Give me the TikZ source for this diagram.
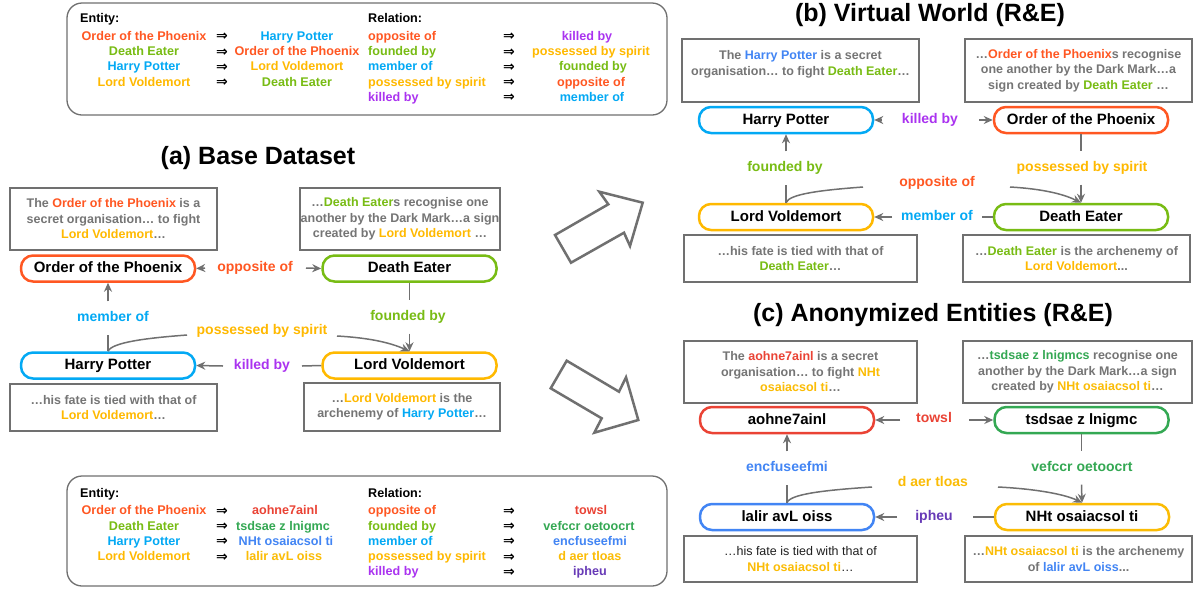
\documentclass[tikz,border=0pt]{standalone}
\usepackage{fontspec}
\setmainfont{Liberation Sans}
\newfontfamily\symfont{DejaVu Sans}
\usetikzlibrary{arrows.meta}
\definecolor{ootp}{RGB}{255,87,34}
\definecolor{de}{RGB}{120,188,20}
\definecolor{hp}{RGB}{3,169,244}
\definecolor{lv}{RGB}{255,185,0}
\definecolor{purp}{RGB}{170,51,240}
\definecolor{hpb}{RGB}{66,133,244}
\definecolor{cred}{RGB}{234,67,53}
\definecolor{cgreen}{RGB}{52,168,83}
\definecolor{cblue}{RGB}{66,133,244}
\definecolor{cyel}{RGB}{251,188,5}
\definecolor{cpurp}{RGB}{103,58,183}
\definecolor{tgray}{RGB}{117,117,117}
\definecolor{lgray}{RGB}{112,112,112}
\tikzset{
  ent/.style={draw, line width=2.5pt, rounded corners=12pt, minimum width=174pt, minimum height=26pt, inner sep=0pt, text height=11pt, text depth=3pt, font=\fontsize{15}{18}\selectfont\bfseries, text=black},
  ctx/.style={draw=lgray, line width=2pt, align=center, inner sep=0pt, font=\fontsize{12.5}{15.5}\selectfont\bfseries, text=tgray},
  lab/.style={font=\fontsize{14}{17}\selectfont\bfseries, inner xsep=10pt, inner ysep=0pt, minimum height=33pt, text height=10pt, text depth=3pt},
  conn/.style={draw=lgray, line width=1.5pt},
  arr/.style={conn, -{Stealth[length=9pt,width=8pt]}},
  leg/.style={font=\fontsize{12.6}{15}\selectfont\bfseries, inner sep=0pt, text height=9pt, text depth=2.6pt},
  imp/.style={font=\symfont\bfseries\fontsize{14}{16}\selectfont, inner sep=0pt},
  ttl/.style={font=\fontsize{25}{30}\selectfont\bfseries},
  bigarrow/.style={draw=lgray, line width=2.5pt, fill=white, line join=miter}
}
\begin{document}
\begin{tikzpicture}[x=1pt,y=-1pt]
\useasboundingbox (0,0) rectangle (1203,590);
\fill[white] (0,0) rectangle (1203,590);

% ---------- top legend ----------
\draw[draw=lgray, line width=1.3pt, rounded corners=15pt] (67,3) rectangle (667,115);
\node[leg, anchor=west] (te0) at (80,19) {Entity:};
\node[leg, anchor=west] (tr0) at (368,19) {Relation:};
\node[leg, text=ootp] (te1) at (144,37) {Order of the Phoenix};
\node[leg, text=de] (te2) at (144,52.3) {Death Eater};
\node[leg, text=hp] (te3) at (144,67.6) {Harry Potter};
\node[leg, text=lv] (te4) at (144,82.9) {Lord Voldemort};
\node[imp] (ta1) at (222,37) {⇒};
\node[imp] (ta2) at (222,52.3) {⇒};
\node[imp] (ta3) at (222,67.6) {⇒};
\node[imp] (ta4) at (222,82.9) {⇒};
\node[leg, text=hp] (tf1) at (297,37) {Harry Potter};
\node[leg, text=ootp] (tf2) at (297,52.3) {Order of the Phoenix};
\node[leg, text=lv] (tf3) at (297,67.6) {Lord Voldemort};
\node[leg, text=de] (tf4) at (297,82.9) {Death Eater};
\node[leg, text=ootp, anchor=west] (tr1) at (368,37) {opposite of};
\node[leg, text=de, anchor=west] (tr2) at (368,52.3) {founded by};
\node[leg, text=hp, anchor=west] (tr3) at (368,67.6) {member of};
\node[leg, text=lv, anchor=west] (tr4) at (368,82.9) {possessed by spirit};
\node[leg, text=purp, anchor=west] (tr5) at (368,98.2) {killed by};
\node[imp] (tb1) at (509,37) {⇒};
\node[imp] (tb2) at (509,52.3) {⇒};
\node[imp] (tb3) at (509,67.6) {⇒};
\node[imp] (tb4) at (509,82.9) {⇒};
\node[imp] (tb5) at (509,98.2) {⇒};
\node[leg, text=purp] (tg1) at (587,37) {killed by};
\node[leg, text=lv] (tg2) at (591,52.3) {possessed by spirit};
\node[leg, text=de] (tg3) at (593,67.6) {founded by};
\node[leg, text=ootp] (tg4) at (591,82.9) {opposite of};
\node[leg, text=hp] (tg5) at (592,98.2) {member of};

% ---------- bottom legend ----------
\draw[draw=lgray, line width=1.3pt, rounded corners=15pt] (67,476) rectangle (667,586);
\node[leg, anchor=west] (be0) at (80,494) {Entity:};
\node[leg, anchor=west] (br0) at (368,494) {Relation:};
\node[leg, text=ootp] (be1) at (144,511.5) {Order of the Phoenix};
\node[leg, text=de] (be2) at (144,526.8) {Death Eater};
\node[leg, text=hp] (be3) at (144,542.1) {Harry Potter};
\node[leg, text=lv] (be4) at (144,557.4) {Lord Voldemort};
\node[imp] (ba1) at (222,511.5) {⇒};
\node[imp] (ba2) at (222,526.8) {⇒};
\node[imp] (ba3) at (222,542.1) {⇒};
\node[imp] (ba4) at (222,557.4) {⇒};
\node[leg, text=cred] (bf1) at (285,511.5) {aohne7ainl};
\node[leg, text=cgreen] (bf2) at (283,526.8) {tsdsae z lnigmc};
\node[leg, text=cblue] (bf3) at (286,542.1) {NHt osaiacsol ti};
\node[leg, text=cyel] (bf4) at (284,557.4) {lalir avL oiss};
\node[leg, text=ootp, anchor=west] (br1) at (368,511.5) {opposite of};
\node[leg, text=de, anchor=west] (br2) at (368,526.8) {founded by};
\node[leg, text=hp, anchor=west] (br3) at (368,542.1) {member of};
\node[leg, text=lv, anchor=west] (br4) at (368,557.4) {possessed by spirit};
\node[leg, text=purp, anchor=west] (br5) at (368,572.7) {killed by};
\node[imp] (bb1) at (509,511.5) {⇒};
\node[imp] (bb2) at (509,526.8) {⇒};
\node[imp] (bb3) at (509,542.1) {⇒};
\node[imp] (bb4) at (509,557.4) {⇒};
\node[imp] (bb5) at (509,572.7) {⇒};
\node[leg, text=cred] (bg1) at (591,511.5) {towsl};
\node[leg, text=cgreen] (bg2) at (589,526.8) {vefccr oetoocrt};
\node[leg, text=cblue] (bg3) at (590,542.1) {encfuseefmi};
\node[leg, text=cyel] (bg4) at (590,557.4) {d aer tloas};
\node[leg, text=cpurp] (bg5) at (590,572.7) {ipheu};

% ---------- big arrows ----------
\draw[bigarrow] (555,235) -- (608.3,204.3) -- (599.3,191.7) -- (642.7,202.7) -- (630,246) -- (624,232.7) -- (571,262.7) -- cycle;
\draw[bigarrow] (566.7,360.7) -- (619,391.7) -- (626,377.3) -- (638.3,420) -- (594.3,432.7) -- (601.7,418.3) -- (550.7,388.3) -- cycle;

% ---------- (a) ----------
\node[ttl] (ta) at (258,158) {(a) Base Dataset};
\node[ctx, minimum width=207pt, minimum height=62pt] (ac1) at (113.5,219)
  {The \textcolor{ootp}{Order of the Phoenix} is a\\secret organisation… to fight\\\textcolor{lv}{Lord Voldemort}…};
\node[ctx, minimum width=200pt, minimum height=62pt] (ac2) at (400,219)
  {…\textcolor{de}{Death Eater}s recognise one\\another by the Dark Mark…a sign\\created by \textcolor{lv}{Lord Voldemort} …};
\node[ctx, minimum width=207pt, minimum height=47pt] (ac3) at (113.5,407.5)
  {…his fate is tied with that of\\\textcolor{lv}{Lord Voldemort}…};
\node[ctx, minimum width=196pt, minimum height=48pt] (ac4) at (402,407)
  {…\textcolor{lv}{Lord Voldemort} is the\\archenemy of \textcolor{hp}{Harry Potter}…};
\node[ent, draw=ootp] (a1) at (108,268.5) {Order of the Phoenix};
\node[ent, draw=de] (a2) at (409.5,268.5) {Death Eater};
\node[ent, draw=hp] (a3) at (108,365.5) {Harry Potter};
\node[ent, draw=lv] (a4) at (409.5,365.5) {Lord Voldemort};
\node[lab, text=ootp] (al1) at (255,268) {opposite of};
\node[lab, text=purp] (al2) at (262,366) {killed by};
\node[lab, text=hp] (al3) at (113,318) {member of};
\node[lab, text=de] (al4) at (408,317) {founded by};
\node[lab, text=lv] (al5) at (262,331) {possessed by spirit};
\coordinate (ap1) at (205,268);
\coordinate (ap2) at (306,268);
\coordinate (ap3) at (223,366);
\coordinate (ap4) at (302,366);
\coordinate (ap5) at (187,335);
\coordinate (ap6) at (337,336);
\draw[arr] (ap1) -- (a1.east);
\draw[arr] (ap2) -- (a2.west);
\draw[arr] (ap3) -- (a3.east);
\draw[conn] (a4.west) -- (ap4);
\draw[arr] (a1.south |- al3.north) -- (a1.south);
\draw[conn] (a3.north) -- (a3.north |- al3.south);
\draw[conn] (a2.south) -- (a2.south |- al4.north);
\draw[arr] (a2.south |- al4.south) -- (a4.north);
\draw[conn] (a3.north) .. controls +(4,-9) and +(-40,3) .. (ap5);
\draw[arr] (ap6) .. controls +(35,2) and +(-18,-8) .. (a4.north);

% ---------- (b) ----------
\node[ttl] (tb) at (930,15) {(b) Virtual World (R\&E)};
\node[ctx, minimum width=237pt, minimum height=63pt] (bc1) at (800.5,70.5)
  {The \textcolor{hpb}{Harry Potter} is a secret\\organisation… to fight \textcolor{de}{Death Eater}…\\\mbox{}};
\node[ctx, minimum width=227pt, minimum height=63pt] (bc2) at (1078.5,70.5)
  {…\textcolor{ootp}{Order of the Phoenix}s recognise\\one another by the Dark Mark…a\\sign created by \textcolor{de}{Death Eater} …};
\node[ctx, minimum width=233pt, minimum height=47pt] (bc3) at (800.5,258.5)
  {…his fate is tied with that of\\\textcolor{de}{Death Eater}…};
\node[ctx, minimum width=227pt, minimum height=47pt] (bc4) at (1076.5,258.5)
  {…\textcolor{de}{Death Eater} is the archenemy of\\\textcolor{lv}{Lord Voldemort}...};
\node[ent, draw=hp] (b1) at (786,120) {Harry Potter};
\node[ent, draw=ootp] (b2) at (1081,120) {Order of the Phoenix};
\node[ent, draw=lv] (b3) at (786,217) {Lord Voldemort};
\node[ent, draw=de] (b4) at (1081,217) {Death Eater};
\node[lab, text=purp] (bl1) at (930,120) {killed by};
\node[lab, text=hp] (bl2) at (937,217) {member of};
\node[lab, text=de] (bl3) at (785,168) {founded by};
\node[lab, text=lv] (bl4) at (1082,168) {possessed by spirit};
\node[lab, text=ootp] (bl5) at (937,183) {opposite of};
\coordinate (bp1) at (882,120);
\coordinate (bp2) at (979,120);
\coordinate (bp3) at (892,217);
\coordinate (bp4) at (982,217);
\coordinate (bp5) at (863,187);
\coordinate (bp6) at (1010,187);
\draw[arr] (bp1) -- (b1.east);
\draw[arr] (bp2) -- (b2.west);
\draw[arr] (bp3) -- (b3.east);
\draw[conn] (b4.west) -- (bp4);
\draw[arr] (b1.south |- bl3.north) -- (b1.south);
\draw[conn] (b3.north) -- (b3.north |- bl3.south);
\draw[conn] (b2.south) -- (b2.south |- bl4.north);
\draw[arr] (b2.south |- bl4.south) -- (b4.north);
\draw[conn] (b3.north) .. controls +(3,-9) and +(-40,3) .. (bp5);
\draw[arr] (bp6) .. controls +(35,2) and +(-16,-8) .. (b4.north);

% ---------- (c) ----------
\node[ttl] (tc) at (933,315) {(c) Anonymized Entities (R\&E)};
\node[ctx, minimum width=233pt, minimum height=62pt] (cc1) at (800.5,372)
  {The \textcolor{cred}{aohne7ainl} is a secret\\organisation… to fight \textcolor{cyel}{NHt}\\\textcolor{cyel}{osaiacsol ti}…};
\node[ctx, minimum width=229pt, minimum height=62pt] (cc2) at (1077.5,372)
  {…\textcolor{cgreen}{tsdsae z lnigmcs} recognise one\\another by the Dark Mark…a sign\\created by \textcolor{cyel}{NHt osaiacsol ti}…};
\node[ctx, minimum width=233pt, minimum height=46pt, font=\fontsize{12.5}{15.5}\selectfont, text=black!88] (cc3) at (800.5,559)
  {…his fate is tied with that of\\\textcolor{cyel}{\bfseries NHt osaiacsol ti}…};
\node[ctx, minimum width=227pt, minimum height=46pt] (cc4) at (1078.5,559)
  {…\textcolor{cyel}{NHt osaiacsol ti} is the archenemy\\of \textcolor{cblue}{lalir avL oiss}...};
\node[ent, draw=cred] (c1) at (787,420) {aohne7ainl};
\node[ent, draw=cgreen] (c2) at (1081.5,420) {tsdsae z lnigmc};
\node[ent, draw=cblue] (c3) at (787,517) {lalir avL oiss};
\node[ent, draw=cyel] (c4) at (1082,517) {NHt osaiacsol ti};
\node[lab, text=cred] (cl1) at (934,419) {towsl};
\node[lab, text=cpurp] (cl2) at (934,517) {ipheu};
\node[lab, text=cblue] (cl3) at (787,468) {encfuseefmi};
\node[lab, text=cgreen] (cl4) at (1082,468) {vefccr oetoocrt};
\node[lab, text=cyel] (cl5) at (933,483) {d aer tloas};
\coordinate (cp1) at (900,420);
\coordinate (cp2) at (969,420);
\coordinate (cp3) at (897,517);
\coordinate (cp4) at (973,517);
\coordinate (cp5) at (872,487);
\coordinate (cp6) at (998,487);
\draw[arr] (cp1) -- (c1.east);
\draw[arr] (cp2) -- (c2.west);
\draw[arr] (cp3) -- (c3.east);
\draw[conn] (c4.west) -- (cp4);
\draw[arr] (c1.south |- cl3.north) -- (c1.south);
\draw[conn] (c3.north) -- (c3.north |- cl3.south);
\draw[conn] (c2.south) -- (c2.south |- cl4.north);
\draw[arr] (c2.south |- cl4.south) -- (c4.north);
\draw[conn] (c3.north) .. controls +(3,-9) and +(-45,3) .. (cp5);
\draw[arr] (cp6) .. controls +(40,2) and +(-16,-8) .. (c4.north);
\end{tikzpicture}
\end{document}
